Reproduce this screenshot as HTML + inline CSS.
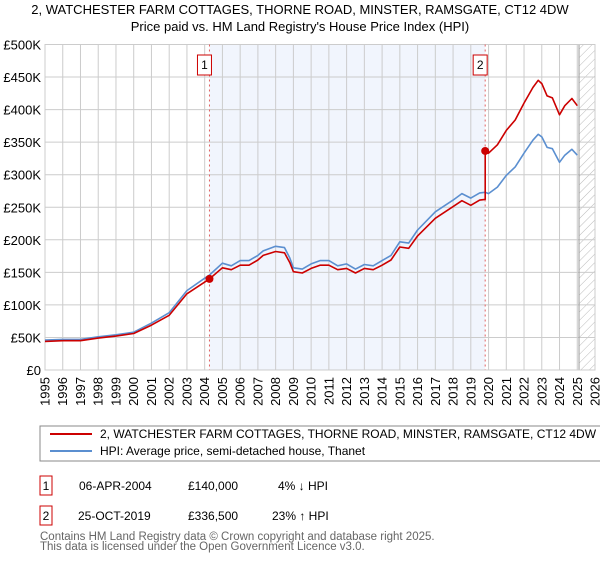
<!DOCTYPE html>
<html><head><meta charset="utf-8"><style>
body{margin:0;background:#fff;font-family:"Liberation Sans",sans-serif;}
svg text{font-family:"Liberation Sans",sans-serif;}
</style></head><body>
<svg id="chart" width="600" height="560" xmlns="http://www.w3.org/2000/svg">
<text x="300" y="14" text-anchor="middle" font-size="13">2, WATCHESTER FARM COTTAGES, THORNE ROAD, MINSTER, RAMSGATE, CT12 4DW</text>
<text x="300" y="31" text-anchor="middle" font-size="13">Price paid vs. HM Land Registry's House Price Index (HPI)</text>
<defs><pattern id="hatch" width="6" height="6" patternUnits="userSpaceOnUse" patternTransform="rotate(45)"><line x1="0" y1="0" x2="0" y2="6" stroke="#bbb" stroke-width="1"/></pattern></defs>
<g id="grid"></g><g id="marks"></g><g id="axes"></g>
<rect x="40" y="426" width="580" height="35" fill="#fff" stroke="#888"/>
<line x1="50" y1="434" x2="92" y2="434" stroke="#cc0000" stroke-width="2"/>
<text x="100" y="438" font-size="12">2, WATCHESTER FARM COTTAGES, THORNE ROAD, MINSTER, RAMSGATE, CT12 4DW (semi-detached house)</text>
<line x1="50" y1="451" x2="92" y2="451" stroke="#5b8fd0" stroke-width="2"/>
<text x="100" y="455" font-size="12">HPI: Average price, semi-detached house, Thanet</text>
<g font-size="12">
<rect x="40" y="476" width="12" height="19" fill="#fff" stroke="#cc0000"/><text x="46" y="490" text-anchor="middle">1</text>
<text x="79" y="490">06-APR-2004</text><text x="188" y="490">£140,000</text><text x="278" y="490">4% ↓ HPI</text></g>
<g font-size="12">
<rect x="40" y="506" width="12" height="19" fill="#fff" stroke="#cc0000"/><text x="46" y="520" text-anchor="middle">2</text>
<text x="78" y="520">25-OCT-2019</text><text x="188" y="520">£336,500</text><text x="272" y="520">23% ↑ HPI</text></g>
<text x="40" y="540" font-size="11.5" fill="#666">Contains HM Land Registry data © Crown copyright and database right 2025.</text>
<text x="40" y="550" font-size="11.5" fill="#666">This data is licensed under the Open Government Licence v3.0.</text>
</svg>
<script>
const hpiDates=[1995,1996,1997,1998,1999,2000,2001,2002,2003,2004,2004.27,2005,2005.5,2006,2006.5,2007,2007.3,2008,2008.5,2008.8,2009,2009.5,2010,2010.5,2011,2011.5,2012,2012.5,2013,2013.5,2014,2014.5,2015,2015.5,2016,2017,2018,2018.5,2019,2019.5,2019.81,2020,2020.5,2021,2021.5,2022,2022.5,2022.8,2023,2023.3,2023.6,2024,2024.3,2024.7,2025];
const hpiValues=[46,47,47,51,54,58,72,88,122,141,146,164,160,168,168,176,183,190,188,172,157,155,163,168,168,160,163,155,162,160,168,176,197,195,215,243,261,271,264,272,273,271,281,299,312,333,353,362,358,342,340,319,330,339,330];
const priceDates=[1995,1996,1997,1998,1999,2000,2001,2002,2003,2004,2004.27,2005,2005.5,2006,2006.5,2007,2007.3,2008,2008.5,2008.8,2009,2009.5,2010,2010.5,2011,2011.5,2012,2012.5,2013,2013.5,2014,2014.5,2015,2015.5,2016,2017,2018,2018.5,2019,2019.5,2019.81,2019.81,2020,2020.5,2021,2021.5,2022,2022.5,2022.8,2023,2023.3,2023.6,2024,2024.3,2024.7,2025];
const priceValues=[44,45,45,49,52,56,69,84,117,135,140,157,154,161,161,169,176,182,180,165,151,149,156,161,161,154,156,149,156,154,161,169,189,187,206,233,251,260,253,261,262,336.5,333,346,368,384,410,434,445,440,421,418,392,406,417,406];
const saleDates=[2004.27,2019.81];
const saleValues=[140,336.5];
const saleLabels=["1","2"];
const yTicks=[0,50,100,150,200,250,300,350,400,450,500];
const yTickLabels=["£0","£50K","£100K","£150K","£200K","£250K","£300K","£350K","£400K","£450K","£500K"];
const xTicks=[1995,1996,1997,1998,1999,2000,2001,2002,2003,2004,2005,2006,2007,2008,2009,2010,2011,2012,2013,2014,2015,2016,2017,2018,2019,2020,2021,2022,2023,2024,2025,2026];
const NS="http://www.w3.org/2000/svg";
const X0=45,X1=595,Y0=370,Y1=44.5;
const xs=t=>X0+(t-1995)/(2026-1995)*(X1-X0);
const ys=v=>Y0-v/500*(Y0-Y1);
function mk(tag,attrs,parent){const e=document.createElementNS(NS,tag);for(const k in attrs)e.setAttribute(k,attrs[k]);parent.appendChild(e);return e;}
const grid=document.getElementById('grid'),marks=document.getElementById('marks'),axes=document.getElementById('axes');
let r=mk('rect',{x:xs(saleDates[0]),y:Y1,width:xs(saleDates[1])-xs(saleDates[0]),height:Y0-Y1,fill:'#f1f5fd'},grid);


r=mk('rect',{x:xs(2025.1),y:Y1,width:X1-xs(2025.1),height:Y0-Y1,fill:'url(#hatch)'},grid);


yTicks.forEach((v,i)=>{
 mk('line',{x1:X0,x2:X1,y1:ys(v),y2:ys(v),stroke:'#cccccc'},grid);
 const t=mk('text',{x:X0-4,y:ys(v)+5,'text-anchor':'end','font-size':'13'},axes);t.textContent=yTickLabels[i];
 
 
});
xTicks.forEach(y=>{
 mk('line',{x1:xs(y),x2:xs(y),y1:Y1,y2:Y0,stroke:'#cccccc'},grid);
 const t=mk('text',{x:0,y:0,'font-size':'13','text-anchor':'end',transform:`translate(${xs(y)+4.5},${Y0+7}) rotate(-90)`},axes);t.textContent=y;
 
 
});
mk('line',{x1:xs(2025.1),x2:xs(2025.1),y1:Y1,y2:Y0,stroke:'#999'},grid);
mk('rect',{x:X0,y:Y1,width:X1-X0,height:Y0-Y1,fill:'none',stroke:'#cccccc'},grid);
saleDates.forEach((d,i)=>{
 const l=mk('line',{x1:xs(d),x2:xs(d),y1:Y1,y2:Y0,stroke:'#e06060','stroke-dasharray':'2,3'},grid);
 
 
 const g=mk('g',{},marks);
 
 
 mk('rect',{x:xs(d)-12,y:55,width:14,height:20,fill:'#fff',stroke:'#cc0000'},g);
 const t=mk('text',{x:xs(d)-5,y:69,'text-anchor':'middle','font-size':'12'},g);t.textContent=saleLabels[i];
});
function path(dates,vals,color,name){
 const d=dates.map((t,i)=>(i?'L':'M')+xs(t).toFixed(1)+','+ys(vals[i]).toFixed(1)).join('');
 const p=mk('path',{d:d,fill:'none',stroke:color,'stroke-width':'1.6','stroke-linejoin':'round'},marks);
 
 
}
path(hpiDates,hpiValues,'#5b8fd0','hpi-line');
path(priceDates,priceValues,'#cc0000','price-paid-line');
saleDates.forEach((d,i)=>{
 const c=mk('circle',{cx:xs(d),cy:ys(saleValues[i]),r:4,fill:'#cc0000'},marks);
 
 
});
</script>
</body></html>
